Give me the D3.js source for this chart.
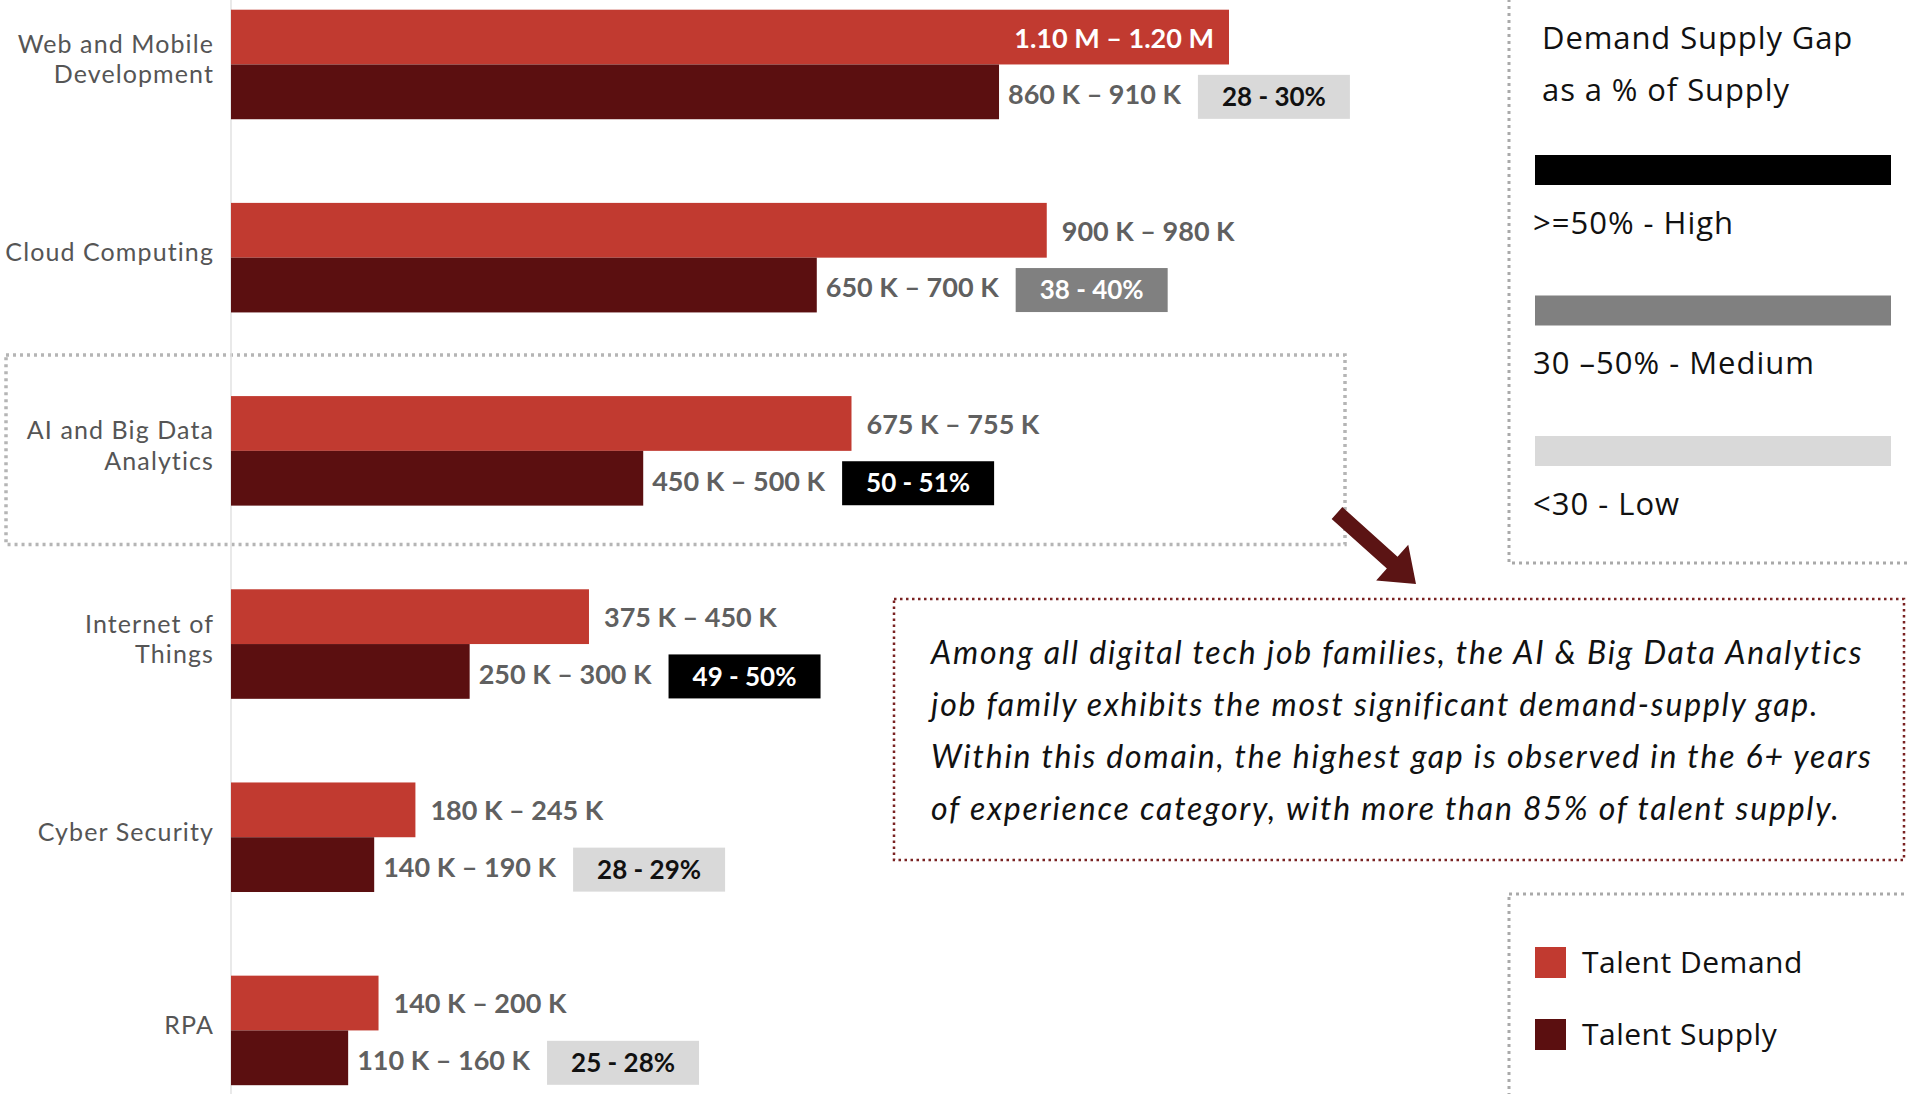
<!DOCTYPE html>
<html>
<head>
<meta charset="utf-8">
<script src="https://cdn.jsdelivr.net/npm/d3@7"></script>
<style>
  html, body { margin: 0; padding: 0; background: #fff; }
  svg { display: block; }
</style>
</head>
<body>
<svg id="chart" width="1908" height="1094"></svg>
<script>
// Job families and their talent demand / supply ranges (thousands)
const categories = ["Web and Mobile Development", "Cloud Computing", "AI and Big Data Analytics", "Internet of Things", "Cyber Security", "RPA"];
const categoryLines = [["Web and Mobile", "Development"], ["Cloud Computing"], ["AI and Big Data", "Analytics"], ["Internet of", "Things"], ["Cyber Security"], ["RPA"]];
const demandLow  = [1100, 900, 675, 375, 180, 140];
const demandHigh = [1200, 980, 755, 450, 245, 200];
const supplyLow  = [860, 650, 450, 250, 140, 110];
const supplyHigh = [910, 700, 500, 300, 190, 160];

// Demand-supply gap as a % of supply
const gapLow   = [28, 38, 50, 49, 28, 25];
const gapHigh  = [30, 40, 51, 50, 29, 28];
const gapLevel = ["Low", "Medium", "High", "High", "Low", "Low"];

const gapLevels = ["High", "Medium", "Low"];
const gapLegendLabels = [">=50% - High", "30 –50% - Medium", "<30 - Low"];
const gapLegendTitle = ["Demand Supply Gap", "as a % of Supply"];
const seriesKeys = ["demand", "supply"];
const seriesNames = ["Talent Demand", "Talent Supply"];
const highlightCategory = "AI and Big Data Analytics";
const noteLines = [
  "Among all digital tech job families, the AI & Big Data Analytics",
  "job family exhibits the most significant demand-supply gap.",
  "Within this domain, the highest gap is observed in the 6+ years",
  "of experience category, with more than 85% of talent supply."
];

const svg = d3.select("#chart");
const W = 1908, H = 1094;

const rows = categories.map((c, i) => ({
  cat: c, lines: categoryLines[i],
  demand: [demandLow[i], demandHigh[i]],
  supply: [supplyLow[i], supplyHigh[i]],
  gap: [gapLow[i], gapHigh[i]], level: gapLevel[i]
}));
const mid = r => (r[0] + r[1]) / 2;

const x = d3.scaleLinear().domain([0, 1150]).range([231, 1229]);
const y = d3.scaleBand().domain(categories).range([9.7, 1085.2]).paddingInner(0.433).paddingOuter(0);
const sub = d3.scaleBand().domain(seriesKeys).range([0, y.bandwidth()]);
const barColor = d3.scaleOrdinal().domain(seriesKeys).range(["#c13a30", "#5b0f10"]);
const gapFill = d3.scaleOrdinal().domain(gapLevels).range(["#000000", "#808080", "#d9d9d9"]);
const gapInk  = d3.scaleOrdinal().domain(gapLevels).range(["#ffffff", "#ffffff", "#111111"]);

const fmt = v => v >= 1000 ? (v / 1000).toFixed(2) + " M" : v + " K";
const rangeLabel = r => fmt(r[0]) + " – " + fmt(r[1]);

const labelFont = "Lato, 'Open Sans', sans-serif";
const textFont = "'Open Sans', Lato, sans-serif";

// Dotted frame around the highlighted job family
const hb = y(highlightCategory);
svg.append("rect")
  .attr("x", 6).attr("y", hb - 41).attr("width", 1339).attr("height", y.bandwidth() + 80)
  .attr("fill", "none").attr("stroke", "#b5b5b5").attr("stroke-width", 3.5)
  .attr("stroke-dasharray", "3 4");

// Category axis line
svg.append("line")
  .attr("x1", x(0)).attr("x2", x(0)).attr("y1", 0).attr("y2", H)
  .attr("stroke", "#e2e2e2").attr("stroke-width", 1.5);

// Category labels
const catG = svg.append("g");
rows.forEach(r => {
  const cy = y(r.cat) + y.bandwidth() / 2 - 5;
  const lh = 30.5;
  const t = catG.append("text")
    .attr("x", 214).attr("text-anchor", "end")
    .attr("font-family", labelFont).attr("font-size", 25).attr("letter-spacing", 1.1)
    .attr("fill", "#555");
  r.lines.forEach((ln, j) => {
    t.append("tspan").attr("x", 214)
      .attr("y", cy + (j - (r.lines.length - 1) / 2) * lh)
      .attr("dy", "0.35em").text(ln);
  });
});

// Bars
const maxDemandIdx = d3.maxIndex(rows, r => mid(r.demand));
const groups = svg.append("g").selectAll("g").data(rows).join("g")
  .attr("transform", r => `translate(0,${y(r.cat)})`);

seriesKeys.forEach(k => {
  groups.append("rect")
    .attr("x", x(0)).attr("y", sub(k))
    .attr("width", r => x(mid(r[k])) - x(0)).attr("height", sub.bandwidth())
    .attr("fill", barColor(k));
});

// Demand range labels
groups.append("text")
  .attr("x", (r, i) => i === maxDemandIdx ? x(mid(r.demand)) - 15 : x(mid(r.demand)) + 15)
  .attr("y", sub("demand") + sub.bandwidth() / 2 + 1)
  .attr("dy", "0.35em")
  .attr("text-anchor", (r, i) => i === maxDemandIdx ? "end" : "start")
  .attr("font-family", labelFont).attr("font-weight", 700).attr("font-size", 27)
  .attr("fill", (r, i) => i === maxDemandIdx ? "#ffffff" : "#606060")
  .text(r => rangeLabel(r.demand));

// Supply range labels and gap badges
groups.each(function (r) {
  const g = d3.select(this);
  const cy = sub("supply") + sub.bandwidth() / 2;
  const lx = x(mid(r.supply)) + 9;
  const t = g.append("text")
    .attr("x", lx).attr("y", cy + 3).attr("dy", "0.35em")
    .attr("font-family", labelFont).attr("font-weight", 700).attr("font-size", 27)
    .attr("fill", "#606060")
    .text(rangeLabel(r.supply));
  const bx = lx + t.node().getComputedTextLength() + 17;
  const bw = 152, bh = 44;
  g.append("rect")
    .attr("x", bx).attr("y", cy + 5 - bh / 2).attr("width", bw).attr("height", bh)
    .attr("fill", gapFill(r.level));
  g.append("text")
    .attr("x", bx + bw / 2).attr("y", cy + 5).attr("dy", "0.35em")
    .attr("text-anchor", "middle")
    .attr("font-family", labelFont).attr("font-weight", 700).attr("font-size", 26)
    .attr("fill", gapInk(r.level))
    .text(`${r.gap[0]} - ${r.gap[1]}%`);
});

// Gap legend
const gapBox = svg.append("g");
gapBox.append("rect")
  .attr("x", 1509).attr("y", -10).attr("width", 420).attr("height", 573)
  .attr("fill", "none").attr("stroke", "#a9a9a9").attr("stroke-width", 3)
  .attr("stroke-dasharray", "3 4");
gapLegendTitle.forEach((ln, j) => {
  gapBox.append("text")
    .attr("x", 1542).attr("y", 38 + j * 52).attr("dy", "0.35em")
    .attr("font-family", textFont).attr("font-size", 31).attr("letter-spacing", 0.9)
    .attr("fill", "#111")
    .text(ln);
});
const ly = d3.scalePoint().domain(gapLevels).range([155, 436]);
gapLevels.forEach((lv, j) => {
  gapBox.append("rect")
    .attr("x", 1535).attr("y", ly(lv)).attr("width", 356).attr("height", 30)
    .attr("fill", gapFill(lv));
  gapBox.append("text")
    .attr("x", 1533).attr("y", ly(lv) + 68).attr("dy", "0.35em")
    .attr("font-family", textFont).attr("font-size", 31).attr("letter-spacing", 1.0)
    .attr("fill", "#111")
    .text(gapLegendLabels[j]);
});

// Series legend
const serBox = svg.append("g");
serBox.append("rect")
  .attr("x", 1509).attr("y", 894).attr("width", 420).attr("height", 220)
  .attr("fill", "none").attr("stroke", "#a9a9a9").attr("stroke-width", 3)
  .attr("stroke-dasharray", "3 4");
const sy = d3.scalePoint().domain(seriesKeys).range([962, 1034]);
seriesKeys.forEach((k, j) => {
  serBox.append("rect")
    .attr("x", 1535).attr("y", sy(k) - 15).attr("width", 31).attr("height", 31)
    .attr("fill", barColor(k));
  serBox.append("text")
    .attr("x", 1582).attr("y", sy(k)).attr("dy", "0.35em")
    .attr("font-family", textFont).attr("font-size", 30).attr("letter-spacing", 0.5)
    .attr("fill", "#111")
    .text(seriesNames[j]);
});

// Callout note
const note = svg.append("g");
note.append("rect")
  .attr("x", 894).attr("y", 599).attr("width", 1010).attr("height", 261)
  .attr("fill", "none").attr("stroke", "#7a2222").attr("stroke-width", 2.5)
  .attr("stroke-dasharray", "2.5 3.5");
noteLines.forEach((ln, j) => {
  note.append("text")
    .attr("x", 931).attr("y", 653 + j * 52).attr("dy", "0.35em")
    .attr("font-family", labelFont).attr("font-style", "italic").attr("font-size", 32)
    .attr("letter-spacing", 1.8)
    .attr("fill", "#111")
    .text(ln);
});

// Arrow pointing from the highlighted family to the note
const tail = [1337, 513], tip = [1416, 584];
const dx = tip[0] - tail[0], dy = tip[1] - tail[1];
const len = Math.hypot(dx, dy), ux = dx / len, uy = dy / len, px = -uy, py = ux;
const headL = 32, headW = 24, shaftW = 8;
const bxp = tip[0] - ux * headL, byp = tip[1] - uy * headL;
const arrowPts = [
  [tail[0] + px * shaftW, tail[1] + py * shaftW],
  [bxp + px * shaftW, byp + py * shaftW],
  [bxp + px * headW, byp + py * headW],
  tip,
  [bxp - px * headW, byp - py * headW],
  [bxp - px * shaftW, byp - py * shaftW],
  [tail[0] - px * shaftW, tail[1] - py * shaftW]
];
svg.append("path")
  .attr("d", d3.line()(arrowPts) + "Z")
  .attr("fill", "#5b1414");
</script>
</body>
</html>
